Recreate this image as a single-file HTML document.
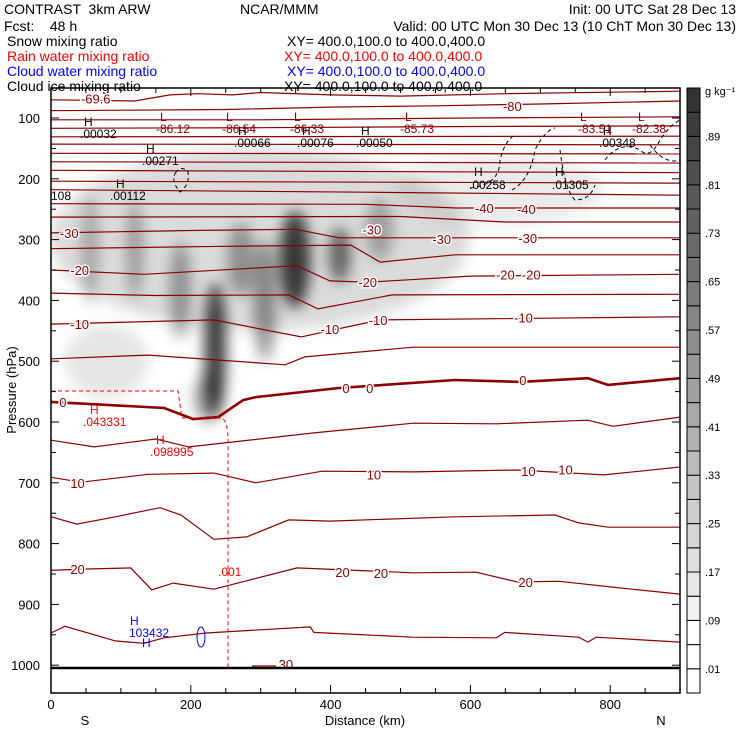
<!DOCTYPE html>
<html><head><meta charset="utf-8"><style>
html,body{margin:0;padding:0;background:#fff;}
svg{display:block;font-family:"Liberation Sans",sans-serif;}
text{white-space:pre;}
</style></head><body>
<svg id="chart" width="740" height="740" viewBox="0 0 740 740" xmlns="http://www.w3.org/2000/svg">
<defs>
<filter id="blur" x="-50%" y="-50%" width="200%" height="200%"><feGaussianBlur stdDeviation="7"/></filter>
<clipPath id="plotclip"><rect x="51" y="88" width="629" height="605"/></clipPath>
</defs>
<g font-size="14" fill="#000">
<text x="4" y="14">CONTRAST  3km ARW</text>
<text x="240" y="14">NCAR/MMM</text>
<text x="736" y="14" text-anchor="end">Init: 00 UTC Sat 28 Dec 13</text>
<text x="4" y="31">Fcst:    48 h</text>
<text x="736" y="31" text-anchor="end">Valid: 00 UTC Mon 30 Dec 13 (10 ChT Mon 30 Dec 13)</text>
<text x="7" y="46">Snow mixing ratio</text>
<text x="287" y="46">XY= 400.0,100.0 to 400.0,400.0</text>
<text x="7" y="61" fill="#ff0000">Rain water mixing ratio</text>
<text x="284" y="61" fill="#ff0000">XY= 400.0,100.0 to 400.0,400.0</text>
<text x="7" y="76" fill="#0000ff">Cloud water mixing ratio</text>
<text x="287" y="76" fill="#0000ff">XY= 400.0,100.0 to 400.0,400.0</text>
<text x="7" y="91">Cloud ice mixing ratio</text>
<text x="284" y="91">XY= 400.0,100.0 to 400.0,400.0</text>
</g>
<g id="shade" clip-path="url(#plotclip)"></g>
<g id="contours" clip-path="url(#plotclip)"></g>
<g id="extras" clip-path="url(#plotclip)"></g>
<g id="axes"></g>
<g id="cbar"></g>
</svg>
<script>
const NS="http://www.w3.org/2000/svg";
// ---- data ----
const yTicks=[100,200,300,400,500,600,700,800,900,1000];
const xTicks=[0,200,400,600,800];
const contourLevels=[-75,-70,-65,-60,-55,-50,-45,-40,-35,-30,-25,-20,-15,-10,-5,0,5,10,15,20,25];
const contourPts=[
[[0,131],[900,130]],
[[0,143],[900,144]],
[[0,158],[900,159]],
[[0,172],[900,174]],
[[0,186],[900,190]],
[[0,204],[900,207]],
[[0,218],[450,222],[900,227]],
[[0,241],[450,242],[580,248],[900,248]],
[[0,263],[500,262],[650,271],[900,271]],
[[0,289],[200,285],[350,283],[412,297],[600,297],[900,297]],
[[0,315],[250,311],[429,309],[471,337],[578,325],[900,325]],
[[0,350],[133,357],[352,343],[399,368],[454,370],[600,360],[900,357]],
[[0,388],[150,392],[340,391],[382,414],[488,391],[900,390]],
[[0,439],[233,432],[358,460],[410,447],[471,432],[900,427]],
[[0,496],[139,490],[335,506],[363,493],[518,477],[900,477]],
[[0,567],[162,577],[203,595],[239,592],[275,564],[293,559],[412,544],[578,531],[672,534],[768,528],[797,539],[900,528]],
[[0,630],[62,641],[150,628],[197,641],[376,618],[518,602],[637,603],[768,597],[804,607],[900,592]],
[[0,691],[43,699],[139,686],[233,684],[293,700],[388,681],[518,682],[667,679],[791,687],[900,674]],
[[0,756],[37,768],[92,756],[156,741],[186,753],[233,793],[280,789],[340,761],[399,763],[578,756],[721,753],[755,766],[797,773],[900,773]],
[[0,844],[43,842],[114,840],[144,876],[175,865],[233,875],[352,840],[518,848],[608,847],[667,863],[727,862],[815,873],[900,883]],
[[0,947],[20,936],[92,960],[133,964],[162,955],[222,947],[371,937],[376,946],[518,954],[637,955],[649,946],[755,954],[768,962],[780,954],[900,962]]
];
const upperPts=[
[[0,70],[120,72],[170,62],[210,60],[260,62],[300,58],[400,62],[500,64],[650,60],[900,56]],
[[0,88],[250,86],[400,82],[550,80],[700,77],[900,72]],
[[0,103],[300,103],[600,100],[900,98]],
[[0,117],[300,116],[600,114],[900,113]]
];
const labelText=["-69.6","-80","-40","-40","-30","-30","-30","-30","-20","-20","-20","-20","-10","-10","-10","-10","0","0","0","0","10","10","10","10","20","20","20","20","30"];
const labelKm=[64,660,620,680,26,459,559,682,41,453,650,687,41,399,468,676,17,422,456,675,38,462,683,736,38,417,472,679,336];
const labelP=[68,80,248,250,289,283,299,297,350,370,357,357,439,447,432,428,567,544,544,531,700,686,681,678,842,847,848,863,998];
const coreKm=[299,642,235,349,413,306,120,56,185,272,225,470,80];
const coreP=[300,218,480,333,325,400,317,317,383,333,560,284,500];
const coreVal=[0.14,0.08,0.75,0.75,0.55,0.4,0.3,0.25,0.35,0.35,0.4,0.28,0.1];
const coreRx=[300,150,16,22,16,16,12,12,15,20,20,20,60];
const coreRy=[150,60,110,80,45,100,80,90,80,60,40,50,60];
const cbarBounds=[".01",".09",".17",".25",".33",".41",".49",".57",".65",".73",".81",".89"];
const cbarBins=25;
// ---- scales ----
const X=km=>51+km*0.699;
const Y=p=>118+(p-100)*0.608;
function el(tag,attrs,parent){const e=document.createElementNS(NS,tag);for(const k in attrs)e.setAttribute(k,attrs[k]);parent.appendChild(e);return e;}
const shade=document.getElementById('shade');
const sg=el('g',{filter:'url(#blur)'},shade);
coreKm.forEach((k,i)=>{
 const e=el('ellipse',{cx:X(k),cy:Y(coreP[i]),rx:coreRx[i]*0.699,ry:coreRy[i]*0.608,fill:'#000','fill-opacity':coreVal[i]},sg);
 
 
});
const cg=document.getElementById('contours');
const pathOf=pts=>pts.map((q,j)=>(j?'L':'M')+X(q[0]).toFixed(1)+' '+Y(q[1]).toFixed(1)).join(' ');
contourPts.forEach((pts,i)=>{
 const lv=contourLevels[i];
 const p=el('path',{d:pathOf(pts),fill:'none',stroke:'#8b0000','stroke-width':lv===0?2.6:1.2},cg);
 
 
});
upperPts.forEach((pts,i)=>{
 const p=el('path',{d:pathOf(pts),fill:'none',stroke:'#8b0000','stroke-width':1.2},cg);
 
 
});
labelText.forEach((t,i)=>{
 const tx=el('text',{x:X(labelKm[i]),y:Y(labelP[i])+5,'font-size':13,fill:'#8b0000','text-anchor':'middle',stroke:'#fff','stroke-width':3,'paint-order':'stroke'},cg);
 tx.textContent=t;
 
 
});
const g0=el('line',{x1:51,y1:668,x2:680,y2:668,stroke:'#000','stroke-width':2.5},cg);


const ex=document.getElementById('extras');
const red=el('path',{d:'M51 391 L178 391 L182 418 L222 418 Q228 422 228 440 L228 668',fill:'none',stroke:'#ff0000','stroke-width':1,'stroke-dasharray':'4 3'},ex);


const txts=[
 ["H",90,414,"#ff0000"],[".043331",83,426,"#ff0000"],["H",156,444,"#ff0000"],[".098995",150,456,"#ff0000"],[".001",218,576,"#ff0000"],
 ["H",130,625,"#0000ff"],["103432",129,637,"#0000ff"],["H",142,647,"#0000ff"],
 ["H",84,126,"#000"],[".00032",80,138,"#000"],["H",146,153,"#000"],[".00271",142,165,"#000"],["108",51,200,"#000"],["H",116,188,"#000"],[".00112",110,200,"#000"],
 ["H",238,135,"#000"],[".00066",234,147,"#000"],["H",302,135,"#000"],[".00076",297,147,"#000"],["H",361,135,"#000"],[".00050",356,147,"#000"],
 ["H",474,176,"#000"],[".00258",469,189,"#000"],["H",555,176,"#000"],[".01305",552,189,"#000"],["H",603,135,"#000"],[".00348",599,147,"#000"],
 ["L",160,121,"#8b0000"],["-86.12",156,133,"#8b0000"],["L",226,121,"#8b0000"],["-86.54",222,133,"#8b0000"],["L",294,121,"#8b0000"],["-86.33",290,133,"#8b0000"],
 ["L",405,121,"#8b0000"],["-85.73",400,133,"#8b0000"],["L",580,121,"#8b0000"],["-83.51",578,133,"#8b0000"],["L",638,121,"#8b0000"],["-82.38",632,133,"#8b0000"]
];
txts.forEach(a=>{const t=el('text',{x:a[1],y:a[2],'font-size':12,fill:a[3]},ex);t.textContent=a[0];
 
 });
const ice=['M176 172 Q170 180 180 192 Q190 185 188 172 Q182 165 176 172','M470 188 Q500 185 500 160 Q505 140 515 135','M512 190 Q530 180 535 150 Q545 130 555 128','M560 150 Q565 190 575 200 Q590 200 595 185','M605 160 Q620 140 640 150 Q650 160 660 140 Q670 125 680 120','M650 145 Q665 165 680 160'];
ice.forEach(d=>{const p=el('path',{d:d,fill:'none',stroke:'#000','stroke-width':1,'stroke-dasharray':'4 3'},ex);
 
 });
const bl=el('ellipse',{cx:201,cy:637,rx:4,ry:10,fill:'none',stroke:'#0000ff','stroke-width':1},ex);


const s30=el('line',{x1:252,y1:666,x2:276,y2:666,stroke:'#8b0000','stroke-width':1.2},ex);


const ax=document.getElementById('axes');
el('rect',{x:51,y:88,width:629,height:605,fill:'none',stroke:'#000','stroke-width':1.5},ax);
for(let p=50;p<=1050;p+=50){const y=Y(p);if(y<88||y>693)continue;const L=p%100===0?8:5;
 el('line',{x1:51,y1:y,x2:51+L,y2:y,stroke:'#000'},ax);el('line',{x1:680,y1:y,x2:680-L,y2:y,stroke:'#000'},ax);}
yTicks.forEach(p=>{const t=el('text',{x:40,y:Y(p)+5,'font-size':13,'text-anchor':'end'},ax);t.textContent=p;
 
 });
for(let k=0;k<=900;k+=50){const x=X(k);const L=k%200===0?8:5;
 el('line',{x1:x,y1:693,x2:x,y2:693-L,stroke:'#000'},ax);el('line',{x1:x,y1:88,x2:x,y2:88+L,stroke:'#000'},ax);}
xTicks.forEach(k=>{const t=el('text',{x:X(k),y:709,'font-size':13,'text-anchor':'middle'},ax);t.textContent=k;
 
 });
const xs=[["S",85,725,"x-left-end"],["N",661,725,"x-right-end"],["Distance (km)",365,725,"x-axis-title"]];
xs.forEach(a=>{const t=el('text',{x:a[1],y:a[2],'font-size':13,'text-anchor':'middle'},ax);t.textContent=a[0];
 
 });
const yt=el('text',{x:0,y:0,'font-size':13,'text-anchor':'middle',transform:'translate(16 390) rotate(-90)'},ax);
yt.textContent='Pressure (hPa)';


const cb=document.getElementById('cbar');
const cbTop=88,cbBot=693,cbH=(cbBot-cbTop)/cbarBins;
for(let k=0;k<cbarBins;k++){const g=k<=2?255:Math.max(52,250-(k-2)*9);
 const r=el('rect',{x:687,y:cbBot-(k+1)*cbH,width:13,height:cbH,fill:`rgb(${g},${g},${g})`,stroke:'#000','stroke-width':1},cb);
 
 }
cbarBounds.forEach((s,i)=>{const t=el('text',{x:705,y:cbBot-(1+2*i)*cbH+4,'font-size':11},cb);t.textContent=s;
 
 });
const u=el('text',{x:705,y:95,'font-size':11},cb);u.textContent='g kg⁻¹';


</script>
</body></html>
